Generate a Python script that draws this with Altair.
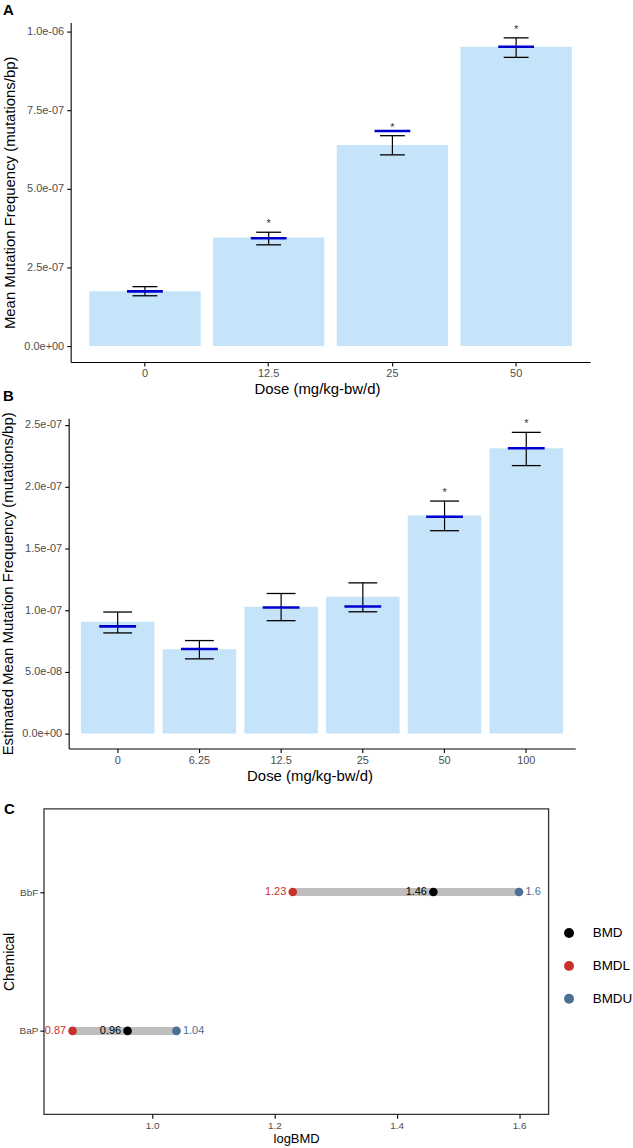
import altair as alt
import pandas as pd

FONT = "Liberation Sans"
BAR = "#C6E4F9"
MEANC = "#0000CD"

# ---------------- Panel A ----------------
a_dose = ["0", "12.5", "25", "50"]
a_bar = [1.74e-7, 3.45e-7, 6.39e-7, 9.52e-7]
a_mean = [1.74e-7, 3.43e-7, 6.84e-7, 9.52e-7]
a_lo = [1.60e-7, 3.22e-7, 6.08e-7, 9.18e-7]
a_hi = [1.89e-7, 3.62e-7, 6.69e-7, 9.80e-7]
a_star = ["", "*", "*", "*"]
a_ticks = [0, 2.5e-7, 5e-7, 7.5e-7, 1e-6]

# ---------------- Panel B ----------------
b_dose = ["0", "6.25", "12.5", "25", "50", "100"]
b_bar = [9.06e-8, 6.83e-8, 1.027e-7, 1.107e-7, 1.766e-7, 2.309e-7]
b_mean = [8.68e-8, 6.85e-8, 1.021e-7, 1.029e-7, 1.755e-7, 2.309e-7]
b_lo = [8.15e-8, 6.05e-8, 9.14e-8, 9.86e-8, 1.642e-7, 2.169e-7]
b_hi = [9.84e-8, 7.53e-8, 1.134e-7, 1.220e-7, 1.882e-7, 2.438e-7]
b_star = ["", "", "", "", "*", "*"]
b_ticks = [0, 5e-8, 1e-7, 1.5e-7, 2e-7, 2.5e-7]

# ---------------- Panel C ----------------
c_chem = ["BaP", "BbF"]
c_bmd = [0.96, 1.46]
c_bmdl = [0.87, 1.23]
c_bmdu = [1.04, 1.60]
c_types = ["BMD", "BMDL", "BMDU"]
c_colors = ["#000000", "#C8302A", "#4A6E94"]
c_ticks = [1.0, 1.2, 1.4, 1.6]

LABEL_EXPR = ("replace(replace(format(datum.value, '.1e'), 'e-', 'e-0'), "
              "'e+', 'e+0')")


def bar_panel(dose, bar, mean, lo, hi, star, ticks, ydom, width, shift,
              pad_outer, align, height, ytitle, tag, tag_offset, cap, meanw):
    df = pd.DataFrame({"dose": dose, "bar": bar, "mean": mean, "lo": lo,
                       "hi": hi, "star": star})
    xs = alt.Scale(paddingInner=0.1, paddingOuter=pad_outer, align=align)
    xaxis = alt.Axis(title="Dose (mg/kg-bw/d)", labelAngle=0, tickSize=4,
                     labelPadding=2, titlePadding=3, labelFontSize=11,
                     titleFontSize=15, domainDash=[0, shift, 2000])
    ys = alt.Scale(domain=ydom, nice=False, zero=False)
    yaxis = alt.Axis(title=ytitle, values=ticks, labelExpr=LABEL_EXPR,
                     offset=-shift, tickSize=4, labelPadding=3,
                     titlePadding=6, labelFontSize=11, titleFontSize=15)
    X = alt.X("dose:N", sort=dose, scale=xs, axis=xaxis)
    Xn = alt.X("dose:N", sort=dose, scale=xs)
    base = alt.Chart(df)
    bars = base.mark_bar(color=BAR).encode(
        x=X, y=alt.Y("bar:Q", scale=ys, axis=yaxis), y2=alt.datum(0))
    err = base.mark_rule(color="black", strokeWidth=1.2).encode(
        x=Xn, y=alt.Y("lo:Q", scale=ys), y2="hi:Q")
    cap_lo = base.mark_tick(color="black", size=cap, thickness=1.3,
                            opacity=1).encode(
        x=Xn, y=alt.Y("lo:Q", scale=ys))
    cap_hi = base.mark_tick(color="black", size=cap, thickness=1.3,
                            opacity=1).encode(
        x=Xn, y=alt.Y("hi:Q", scale=ys))
    mline = base.mark_tick(color=MEANC, size=meanw, thickness=2.6,
                           opacity=1).encode(
        x=Xn, y=alt.Y("mean:Q", scale=ys))
    stars = base.mark_text(fontSize=11, color="#333333", baseline="middle",
                           dy=-8, font=FONT).encode(
        x=Xn, y=alt.Y("hi:Q", scale=ys), text="star:N")
    return alt.layer(bars, err, cap_lo, cap_hi, mline, stars).properties(
        width=width, height=height,
        title=alt.TitleParams(tag, anchor="start", frame="group", dx=-41,
                              offset=tag_offset, fontSize=15,
                              fontWeight="bold", baseline="alphabetic",
                              font=FONT, color="black"))


chart_a = bar_panel(a_dose, a_bar, a_mean, a_lo, a_hi, a_star, a_ticks,
                    [-5.06e-8, 1.0285e-6], 549, 27, 0.258, 0.712, 341,
                    "Mean Mutation Frequency (mutations/bp)", "A", -7, 25, 36)
chart_b = bar_panel(b_dose, b_bar, b_mean, b_lo, b_hi, b_star, b_ticks,
                    [-1.21e-8, 2.553e-7], 534, 25, 0.302, 0.752, 332,
                    "Estimated Mean Mutation Frequency (mutations/bp)", "B",
                    -4.5, 29, 37)

# ---------- Panel C ----------
cw = pd.DataFrame({"chem": c_chem, "lower": c_bmdl, "upper": c_bmdu})
rows = []
for i, ch in enumerate(c_chem):
    for t, v in zip(c_types, [c_bmd[i], c_bmdl[i], c_bmdu[i]]):
        rows.append({"chem": ch, "type": t, "value": v, "label": f"{v:g}"})
cl = pd.DataFrame(rows)

cxs = alt.Scale(domain=[0.823, 1.648], nice=False, zero=False)
cys = alt.Scale(type="point", padding=0.6)
csort = ["BbF", "BaP"]
cxaxis = alt.Axis(title="logBMD", values=c_ticks, format=".1f", domain=False,
                  tickSize=4, labelPadding=2, titlePadding=2, labelFontSize=10,
                  titleFontSize=13)
cyaxis = alt.Axis(title="Chemical", domain=False, tickSize=4, labelPadding=2,
                  titlePadding=3, labelFontSize=10, titleFontSize=14)
colscale = alt.Scale(domain=c_types, range=c_colors)

seg = alt.Chart(cw).mark_rule(color="#BEBEBE", strokeWidth=8).encode(
    x=alt.X("lower:Q", scale=cxs, axis=cxaxis), x2="upper:Q",
    y=alt.Y("chem:N", sort=csort, scale=cys, axis=cyaxis))
pts = alt.Chart(cl).mark_circle(size=75, opacity=1).encode(
    x=alt.X("value:Q", scale=cxs),
    y=alt.Y("chem:N", sort=csort, scale=cys),
    color=alt.Color("type:N", scale=colscale, legend=alt.Legend(
        title=None, orient="none", legendX=521, legendY=908,
        symbolSize=100, symbolType="circle", labelFontSize=13.5,
        labelOffset=17, rowPadding=18, labelFont=FONT, labelColor="black")))
txt_l = alt.Chart(cl).transform_filter("datum.type != 'BMDU'").mark_text(
    align="right", dx=-6.5, fontSize=11, baseline="middle", font=FONT).encode(
    x=alt.X("value:Q", scale=cxs),
    y=alt.Y("chem:N", sort=csort, scale=cys),
    text="label:N", color=alt.Color("type:N", scale=colscale, legend=None))
txt_r = alt.Chart(cl).transform_filter("datum.type == 'BMDU'").mark_text(
    align="left", dx=6.5, fontSize=11, baseline="middle", font=FONT).encode(
    x=alt.X("value:Q", scale=cxs),
    y=alt.Y("chem:N", sort=csort, scale=cys),
    text="label:N", color=alt.Color("type:N", scale=colscale, legend=None))

chart_c = alt.layer(seg, pts, txt_l, txt_r).properties(
    width=507, height=307,
    view=alt.ViewBackground(stroke="#333333", strokeWidth=1.3),
    title=alt.TitleParams(["", "C"], anchor="start", frame="group", dx=-40,
                          offset=-20.8, fontSize=15, fontWeight="bold",
                          lineHeight=26.6, baseline="alphabetic", font=FONT,
                          color="black"))

chart = alt.vconcat(chart_a, chart_b, chart_c, spacing=-8.6).properties(
    padding={"left": 0, "top": 0, "right": 0, "bottom": 0}
).configure_view(stroke=None).configure_axis(
    grid=False, domainColor="black", tickColor="black", domainWidth=1.1,
    tickWidth=1.1, labelColor="#4D4D4D", titleColor="black", labelFont=FONT,
    titleFont=FONT, titleFontWeight="normal"
).configure_legend(labelFont=FONT)

chart.save("out.html", embed_options={"renderer": "svg", "actions": False})
